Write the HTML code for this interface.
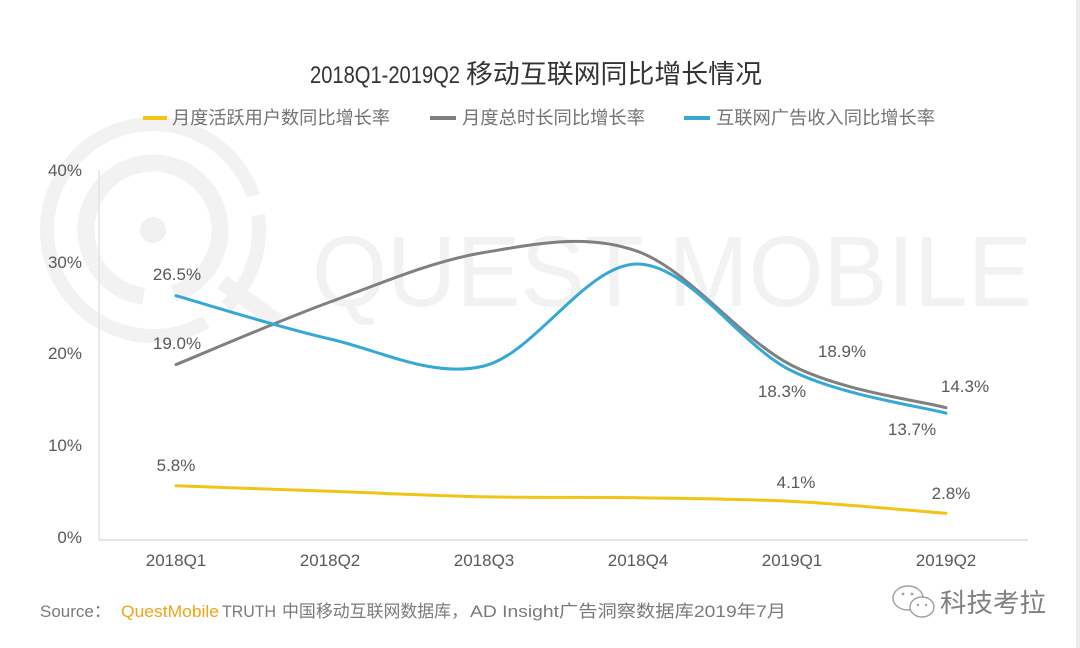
<!DOCTYPE html>
<html><head><meta charset="utf-8"><style>
html,body{margin:0;padding:0;background:#fff;}
svg{display:block;}
</style></head><body>
<svg width="1080" height="648" viewBox="0 0 1080 648" xmlns="http://www.w3.org/2000/svg">
<rect width="1080" height="648" fill="#fff"/>
<rect x="1076" y="0" width="4" height="648" fill="#ececec"/>
<!-- watermark logo -->
<g fill="none" stroke="#f2f2f2">
  <circle cx="153" cy="230" r="106" stroke-width="14" stroke-dasharray="520 20 100 26" transform="rotate(60 153 230)"/>
  <circle cx="153" cy="230" r="67" stroke-width="17" stroke-dasharray="330 30 60 1" transform="rotate(150 153 230)"/>
  <line x1="222" y1="282" x2="278" y2="322" stroke-width="16"/>
</g>
<circle cx="153" cy="230" r="13" fill="#f0f0f0"/>
<text x="312" y="306" font-family="Liberation Sans, sans-serif" font-size="100" fill="#f2f2f2" textLength="720" lengthAdjust="spacingAndGlyphs">QUEST MOBILE</text>

<!-- title -->
<text y="83" font-family="Liberation Sans, Noto Sans CJK SC, sans-serif" fill="#333">
  <tspan x="310" font-size="24" textLength="150" lengthAdjust="spacingAndGlyphs">2018Q1-2019Q2</tspan>
  <tspan x="466" font-size="26" textLength="296" lengthAdjust="spacingAndGlyphs">移动互联网同比增长情况</tspan>
</text>

<!-- legend -->
<g font-family="Liberation Sans, Noto Sans CJK SC, sans-serif" font-size="18" fill="#737373">
  <line x1="143" y1="118" x2="167" y2="118" stroke="#f2c416" stroke-width="4"/>
  <text x="172" y="124" textLength="218" lengthAdjust="spacingAndGlyphs">月度活跃用户数同比增长率</text>
  <line x1="430" y1="118" x2="456" y2="118" stroke="#7f7f7f" stroke-width="4"/>
  <text x="462" y="124" textLength="183" lengthAdjust="spacingAndGlyphs">月度总时长同比增长率</text>
  <line x1="684" y1="118" x2="710" y2="118" stroke="#35a8d6" stroke-width="4"/>
  <text x="716" y="124" textLength="219" lengthAdjust="spacingAndGlyphs">互联网广告收入同比增长率</text>
</g>

<!-- axes -->
<line x1="99" y1="170" x2="99" y2="540" stroke="#e3e3e3" stroke-width="1.5"/>
<line x1="99" y1="540" x2="1028" y2="540" stroke="#dcdcdc" stroke-width="1.5"/>
<g font-family="Liberation Sans, sans-serif" font-size="17" fill="#595959" text-anchor="end">
  <text x="82" y="176">40%</text>
  <text x="82" y="268">30%</text>
  <text x="82" y="359">20%</text>
  <text x="82" y="451">10%</text>
  <text x="82" y="543">0%</text>
</g>
<g font-family="Liberation Sans, sans-serif" font-size="17" fill="#595959" text-anchor="middle">
  <text x="176" y="566">2018Q1</text>
  <text x="330" y="566">2018Q2</text>
  <text x="484" y="566">2018Q3</text>
  <text x="638" y="566">2018Q4</text>
  <text x="792" y="566">2019Q1</text>
  <text x="946" y="566">2019Q2</text>
</g>

<!-- series -->
<g fill="none" stroke-width="3" stroke-linecap="round">
  <path stroke="#f2c416" d="M176,485.8 C201.7,486.7 278.7,489.5 330,491.3 C381.3,493.1 432.7,495.7 484,496.8 C535.3,497.9 586.7,496.9 638,497.7 C689.3,498.5 740.7,498.8 792,501.4 C843.3,504.0 920.3,511.3 946,513.3"/>
  <path stroke="#808080" d="M176,364.6 C201.7,354.2 278.7,320.7 330,302 C381.3,283.3 432.7,260.9 484,252.5 C535.3,244.1 586.7,232.7 638,251.5 C689.3,270.3 740.7,339.5 792,365.5 C843.3,391.5 920.3,400.7 946,407.7"/>
  <path stroke="#34a8d7" d="M176,295.7 C201.7,302.9 278.7,327.3 330,339 C381.3,350.7 432.7,378.5 484,366 C535.3,353.5 586.7,263.2 638,264 C689.3,264.8 740.7,346.1 792,371 C843.3,395.9 920.3,406.2 946,413.2"/>
</g>

<!-- data labels -->
<g font-family="Liberation Sans, sans-serif" font-size="17" fill="#595959" text-anchor="middle">
  <text x="177" y="280">26.5%</text>
  <text x="177" y="349">19.0%</text>
  <text x="176" y="471">5.8%</text>
  <text x="842" y="357">18.9%</text>
  <text x="782" y="397">18.3%</text>
  <text x="965" y="392">14.3%</text>
  <text x="912" y="435">13.7%</text>
  <text x="796" y="488">4.1%</text>
  <text x="951" y="499">2.8%</text>
</g>

<!-- source -->
<g font-family="Liberation Sans, Noto Sans CJK SC, sans-serif" font-size="17" fill="#7a7a7a">
  <text x="40" y="617">Source：</text>
  <text x="121" y="617" fill="#f0a418" textLength="98" lengthAdjust="spacingAndGlyphs">QuestMobile</text>
  <text x="222" y="617" textLength="54" lengthAdjust="spacingAndGlyphs">TRUTH</text>
  <text x="282" y="617" textLength="186" lengthAdjust="spacingAndGlyphs">中国移动互联网数据库，</text>
  <text x="470" y="617" textLength="316" lengthAdjust="spacingAndGlyphs">AD Insight广告洞察数据库2019年7月</text>
</g>

<!-- wechat mark -->
<g fill="none" stroke="#a0a0a0" stroke-width="1.4">
  <ellipse cx="908" cy="598" rx="15" ry="12"/>
  <ellipse cx="922" cy="607" rx="12" ry="10" fill="#fff"/>
</g>
<g fill="#a0a0a0">
  <circle cx="903" cy="594" r="1.4"/><circle cx="912" cy="594" r="1.4"/>
  <circle cx="918" cy="605" r="1.2"/><circle cx="926" cy="605" r="1.2"/>
</g>
<text x="940" y="612" font-family="Noto Sans CJK SC, sans-serif" font-size="26" fill="#808080" textLength="106" lengthAdjust="spacingAndGlyphs">科技考拉</text>
</svg>
</body></html>
